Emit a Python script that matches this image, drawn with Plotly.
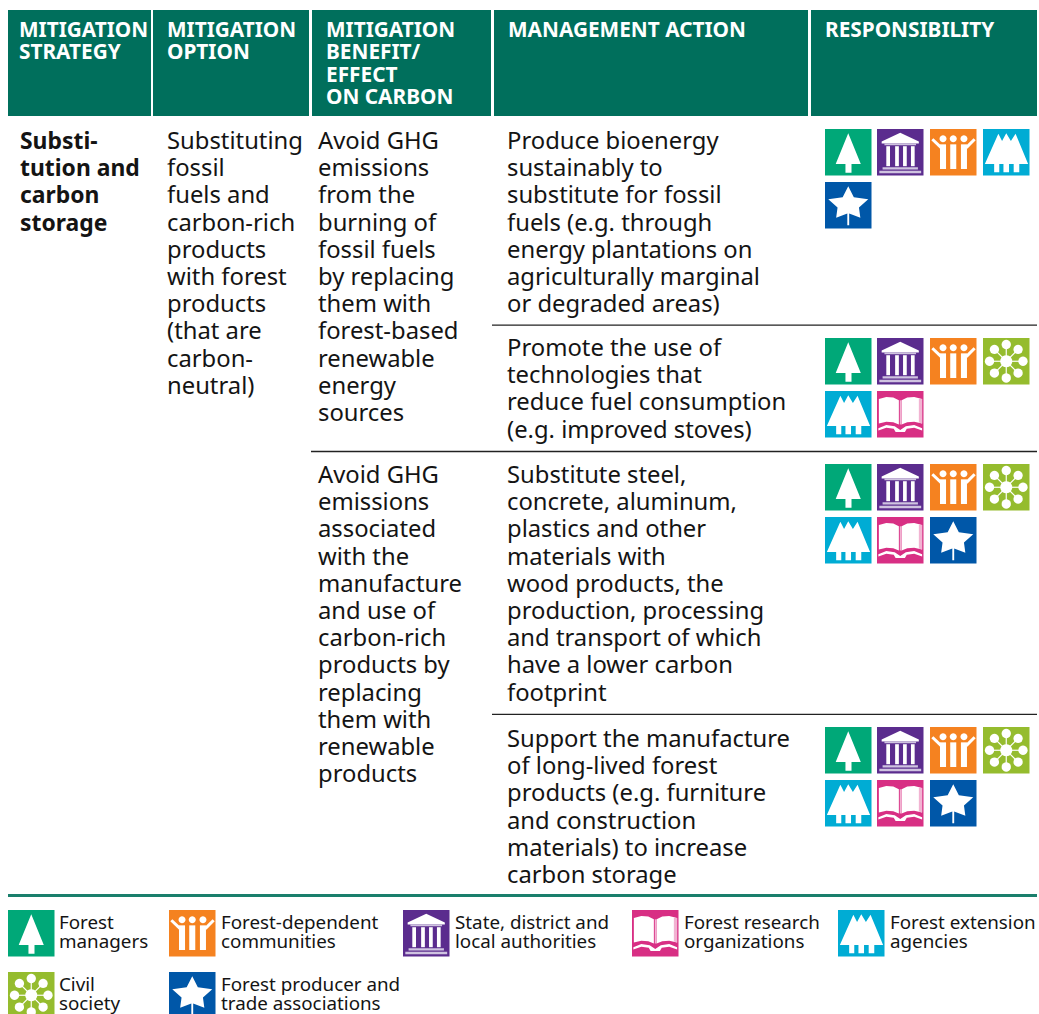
import numpy as np
import plotly.graph_objects as go

FONT = "Noto Sans"
HEAD = "#006F5C"
INK = "#141414"

# ---------- content ----------
columns = [
    ["MITIGATION", "STRATEGY"],
    ["MITIGATION", "OPTION"],
    ["MITIGATION", "BENEFIT/", "EFFECT", "ON CARBON"],
    ["MANAGEMENT ACTION"],
    ["RESPONSIBILITY"],
]
strategy = ["Substi-", "tution and", "carbon", "storage"]
option = ["Substituting", "fossil", "fuels and", "carbon-rich", "products", "with forest", "products", "(that are", "carbon-", "neutral)"]
benefit_1 = ["Avoid GHG", "emissions", "from the", "burning of", "fossil fuels", "by replacing", "them with", "forest-based", "renewable", "energy", "sources"]
benefit_2 = ["Avoid GHG", "emissions", "associated", "with the", "manufacture", "and use of", "carbon-rich", "products by", "replacing", "them with", "renewable", "products"]
action_1 = ["Produce bioenergy", "sustainably to", "substitute for fossil", "fuels (e.g. through", "energy plantations on", "agriculturally marginal", "or degraded areas)"]
action_2 = ["Promote the use of", "technologies that", "reduce fuel consumption", "(e.g. improved stoves)"]
action_3 = ["Substitute steel,", "concrete, aluminum,", "plastics and other", "materials with", "wood products, the", "production, processing", "and transport of which", "have a lower carbon", "footprint"]
action_4 = ["Support the manufacture", "of long-lived forest", "products (e.g. furniture", "and construction", "materials) to increase", "carbon storage"]
resp_1 = ["manager", "state", "community", "extension", "trade"]
resp_2 = ["manager", "state", "community", "civil", "extension", "research"]
resp_3 = ["manager", "state", "community", "civil", "extension", "research", "trade"]
resp_4 = ["manager", "state", "community", "civil", "extension", "research", "trade"]
legend_keys = ["manager", "community", "state", "research", "extension", "civil", "trade"]
legend_text = [
    ["Forest", "managers"],
    ["Forest-dependent", "communities"],
    ["State, district and", "local authorities"],
    ["Forest research", "organizations"],
    ["Forest extension", "agencies"],
    ["Civil", "society"],
    ["Forest producer and", "trade associations"],
]

# ---------- styling ----------
ICON_COLOR = dict(manager="#00A878", state="#5B2C8E", community="#F58220", extension="#00ACD4",
                  trade="#0057A8", civil="#95BC2E", research="#D82F84")
LAV = "#CFC3E0"
PINKL = "#F2B3D2"

shapes, annotations = [], []


def rect(x0, y0, x1, y1, color):
    shapes.append(dict(type="rect", x0=x0, y0=y0, x1=x1, y1=y1, fillcolor=color, line_width=0, layer="above"))


def block(x, first, lines, size=23.8, pitch=27.2, bold=False, color=INK):
    """One multi-line text; plotly's line step is 1.3em of the outer font, the span sets the glyph size."""
    body = "<br>".join(f'<span style="font-size:{size}px">{"<b>" + s + "</b>" if bold else s}</span>' for s in lines)
    annotations.append(dict(x=x, y=first - 1.069 * size, text=body, showarrow=False, align="left",
                            xanchor="left", yanchor="top", borderpad=0,
                            font=dict(family=FONT, size=pitch / 1.3, color=color)))


def circle(cx, cy, r, n=20):
    a = np.linspace(0, 2 * np.pi, n, endpoint=False)
    return list(zip(cx + r * np.cos(a), cy + r * np.sin(a)))


def thick(x0, y0, x1, y1, w):
    dx, dy = x1 - x0, y1 - y0
    L = float(np.hypot(dx, dy))
    nx, ny = -dy / L * w / 2, dx / L * w / 2
    return [(x0 + nx, y0 + ny), (x1 + nx, y1 + ny), (x1 - nx, y1 - ny), (x0 - nx, y0 - ny)]


TREE = [(50, 9), (77, 75), (57, 75), (57, 94), (44, 94), (44, 75), (23, 75)]
FOREST = [(4, 75), (33, 10), (41, 26), (50, 9), (60, 26), (70, 10), (97, 75), (78, 75), (78, 93), (66, 93), (66, 75),
          (56, 75), (56, 93), (44, 93), (44, 75), (35, 75), (35, 93), (24, 93), (24, 75)]
STAR = [(50, 9), (62, 33), (93, 37), (73, 55), (76, 77), (52, 68), (52, 93), (48, 93), (48, 68), (24, 77), (27, 55),
        (7, 37), (38, 33)]

ICON_SHAPES = {
    "manager": [("#FFFFFF", TREE)],
    "extension": [("#FFFFFF", FOREST)],
    "trade": [("#FFFFFF", STAR)],
    "state": [("#FFFFFF", [(50, 8), (90, 27), (90, 31), (10, 31), (10, 27)]),
              (LAV, [(16, 31), (84, 31), (84, 35), (16, 35)]),
              ("#FFFFFF", [(20, 37), (28, 37), (28, 80), (20, 80)]),
              ("#FFFFFF", [(39, 37), (47, 37), (47, 80), (39, 80)]),
              ("#FFFFFF", [(56, 37), (64, 37), (64, 80), (56, 80)]),
              ("#FFFFFF", [(73, 37), (81, 37), (81, 80), (73, 80)]),
              (LAV, [(12, 82), (88, 82), (88, 87), (12, 87)]),
              (LAV, [(5, 90), (95, 90), (95, 95), (5, 95)])],
    "community": [("#FFFFFF", circle(28, 21, 7.5)), ("#FFFFFF", circle(50, 21, 7.5)), ("#FFFFFF", circle(73, 21, 7.5)),
                  ("#FFFFFF", thick(28, 33, 28, 86, 13)), ("#FFFFFF", thick(50, 33, 50, 86, 13)),
                  ("#FFFFFF", thick(73, 33, 73, 86, 13)),
                  ("#FFFFFF", thick(5, 22, 24, 40, 6.5)), ("#FFFFFF", thick(78, 40, 96, 22, 6.5))],
    "civil": [("#FFFFFF", circle(50, 50, 13))]
    + [("#FFFFFF", circle(50 + 36 * np.cos(t), 50 + 36 * np.sin(t), 10)) for t in np.arange(8) * np.pi / 4]
    + [("#FFFFFF", thick(50, 50, 50 + 36 * np.cos(t), 50 + 36 * np.sin(t), 2.5)) for t in np.arange(8) * np.pi / 4],
    "research": [("#FFFFFF", [(4, 17), (20, 13), (35, 14), (47, 20), (47, 72), (35, 67), (20, 66), (4, 70)]),
                 ("#FFFFFF", [(53, 20), (65, 14), (80, 13), (97, 17), (97, 70), (80, 66), (65, 67), (53, 72)]),
                 (PINKL, [(49, 20), (53, 20), (53, 72), (49, 72)]),
                 (PINKL, [(90, 17), (97, 17), (97, 70), (90, 68)]),
                 ("#FFFFFF", [(3, 80), (20, 73), (38, 76), (50, 84), (62, 76), (80, 73), (97, 80), (97, 85), (80, 79), (64, 81), (60, 88), (40, 88), (36, 81), (20, 79), (3, 85)])],
}


def icon(kind, x, y, size=46.5):
    rect(x, y, x + size, y + size, ICON_COLOR[kind])
    for color, poly in ICON_SHAPES[kind]:
        path = "M" + " L".join(f"{x + px / 100 * size:.2f} {y + py / 100 * size:.2f}" for px, py in poly) + " Z"
        shapes.append(dict(type="path", path=path, fillcolor=color, line_width=0, layer="above"))


# ---------- header ----------
HEAD_SPANS = [(8, 151), (153, 309), (312, 491), (494, 808), (811, 1037)]
HEAD_TEXT_X = [18, 166, 325, 507, 824]
for (x0, x1), tx, lines in zip(HEAD_SPANS, HEAD_TEXT_X, columns):
    rect(x0, 10, x1, 116, HEAD)
    block(tx, 36.6, lines, size=20.8, pitch=22.3, bold=True, color="#FFFFFF")

# ---------- body text ----------
block(19, 148, strategy, bold=True, size=22.9)
block(166, 148, option)
block(317, 148, benefit_1)
block(317, 482.7, benefit_2)
block(506, 148, action_1)
block(506, 355.7, action_2)
block(506, 482.7, action_3)
block(506, 746, action_4)

# ---------- rules ----------
rect(492, 324.5, 1037, 325.7, "#222222")
rect(311, 450.7, 1037, 452.2, "#222222")
rect(492, 713.7, 1037, 715, "#222222")
rect(8, 894, 1037, 897, "#1A7F6C")

# ---------- responsibility icons ----------
ICON_X = [825, 877, 930, 983]
for keys, y0 in [(resp_1, 129), (resp_2, 338), (resp_3, 464), (resp_4, 727)]:
    for i, k in enumerate(keys):
        icon(k, ICON_X[i % 4], y0 + (i // 4) * 53)

# ---------- legend ----------
LEG = [(8, 910), (169, 910), (403, 910), (632, 910), (838, 910), (8, 972), (169, 972)]
for k, (x, y), txt in zip(legend_keys, LEG, legend_text):
    icon(k, x, y)
    tx = x + 50 + (1 if x > 8 else 0)
    block(tx, y + 18, txt, size=18.8, pitch=18.6)

fig = go.Figure()
fig.update_layout(
    width=1039, height=1014, margin=dict(l=0, r=0, t=0, b=0),
    plot_bgcolor="white", paper_bgcolor="white", showlegend=False,
    xaxis=dict(range=[0, 1039], visible=False, fixedrange=True),
    yaxis=dict(range=[1014, 0], visible=False, fixedrange=True),
    shapes=shapes, annotations=annotations,
)
fig.write_html("out.html", config=dict(displayModeBar=False),
               post_script="document.body.style.margin='0';document.body.style.overflow='hidden';")
